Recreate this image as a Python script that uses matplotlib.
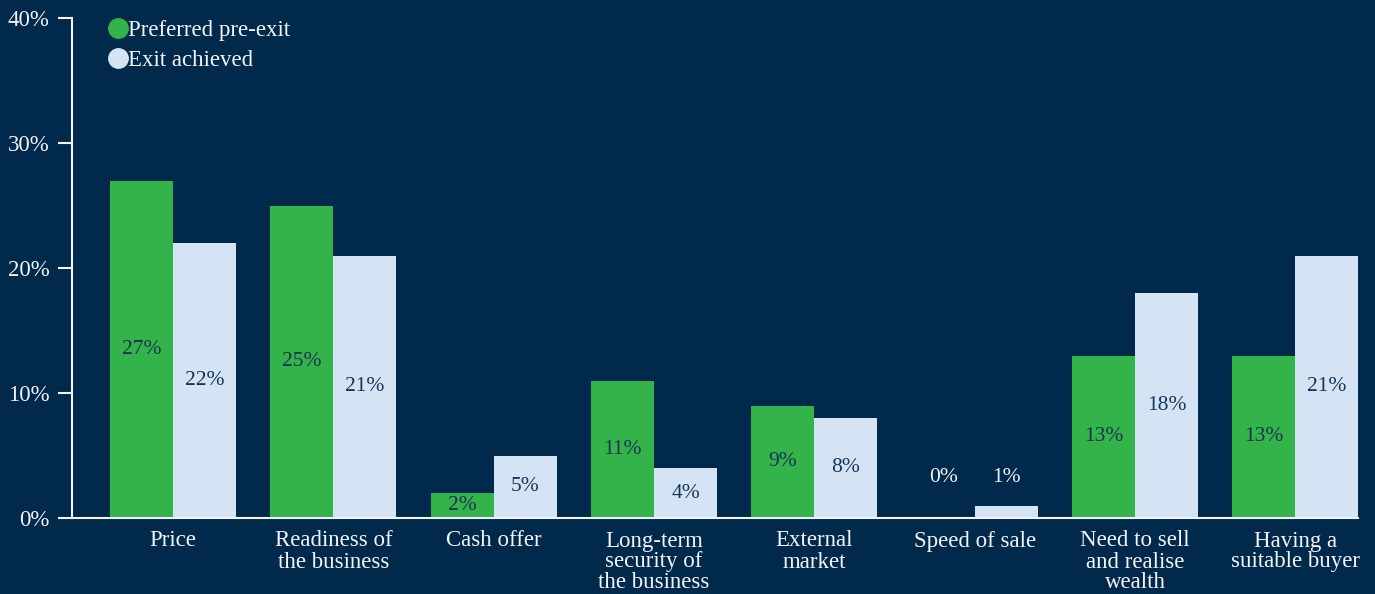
import matplotlib
matplotlib.use('Agg')
import matplotlib.pyplot as plt
from matplotlib.lines import Line2D
import numpy as np

BG = '#00294b'
GREEN = '#33b34a'
LIGHT = '#d4e4f4'
WHITE = '#f2f4f7'
NAVY_TXT = '#173555'

categories = ['Price', 'Readiness of\nthe business', 'Cash offer',
              'Long-term\nsecurity of\nthe business', 'External\nmarket',
              'Speed of sale', 'Need to sell\nand realise\nwealth',
              'Having a\nsuitable buyer']
preferred = [27, 25, 2, 11, 9, 0, 13, 13]
achieved = [22, 21, 5, 4, 8, 1, 18, 21]
series_names = ['Preferred pre-exit', 'Exit achieved']
yticks = [0, 10, 20, 30, 40]

plt.rcParams['font.family'] = ['Liberation Serif', 'DejaVu Serif']

fig = plt.figure(figsize=(13.75, 5.94), dpi=100, facecolor=BG)
ax = fig.add_axes([72 / 1375, 1 - 518 / 594, (1358 - 72) / 1375, 500 / 594])
ax.set_facecolor(BG)

x = np.arange(len(categories))
w = 0.393
ax.bar(x - w / 2, preferred, w, color=GREEN, zorder=2)
ax.bar(x + w / 2, achieved, w, color=LIGHT, zorder=2)


def label_pos(v):
    # tiny bars get their label just above the axis
    return 3.2 if v < 2 else v / 2


for xs, vals in [(x - w / 2, preferred), (x + w / 2, achieved)]:
    for xi, v in zip(xs, vals):
        c = NAVY_TXT if v >= 2 else WHITE
        ax.text(xi, label_pos(v), f'{v}%', ha='center', va='center',
                fontsize=15.5, color=c, zorder=3)

ax.set_xlim(-0.63, 7.39)
ax.set_ylim(0, 40)
ax.set_yticks(yticks)
ax.set_yticklabels([f'{t}%' for t in yticks], fontsize=16.5, color=WHITE)
ax.set_xticks(x)
ax.set_xticklabels(categories, fontsize=16.5, color=WHITE, linespacing=1.0)
ax.tick_params(axis='x', length=0, pad=9)
ax.tick_params(axis='y', length=10, width=1.5, color=WHITE, pad=6)

for s in ['top', 'right']:
    ax.spines[s].set_visible(False)
for s in ['left', 'bottom']:
    ax.spines[s].set_color(WHITE)
    ax.spines[s].set_linewidth(1.5)

handles = [Line2D([], [], marker='o', linestyle='', markersize=14,
                  markerfacecolor=c, markeredgecolor=c)
           for c in [GREEN, LIGHT]]
leg = ax.legend(handles, series_names, loc='upper left',
                bbox_to_anchor=(0.020, 1.014), frameon=False, fontsize=16.5,
                handletextpad=-0.1, handlelength=1.0, labelspacing=0.4,
                borderaxespad=0)
for t in leg.get_texts():
    t.set_color(WHITE)

fig.savefig('out.png', dpi=100, facecolor=BG)
